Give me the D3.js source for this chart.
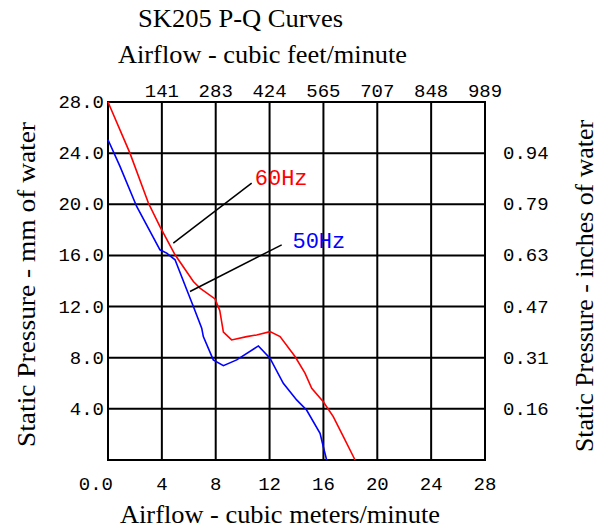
<!DOCTYPE html>
<html>
<head>
<meta charset="utf-8">
<script src="https://cdn.jsdelivr.net/npm/d3@7"></script>
<style>
  body { margin: 0; background: #fff; }
  svg { display: block; }
  .tick { font-family: "Liberation Mono", "DejaVu Sans Mono", monospace; font-size: 19px; fill: #000; }
  .ttl { font-family: "Liberation Serif", serif; font-size: 26px; fill: #000; }
</style>
</head>
<body>
<svg width="608" height="532"></svg>
<script>
// airflow in m3/min, pressure in mm H2O
var q60 = [0, 1.63, 3.0, 3.86, 4.98, 6.34, 6.83, 7.95, 8.3, 8.57, 9.18, 10.3, 11.04, 12.03, 12.78, 13.89, 14.63, 15.13, 15.99, 16.73, 17.48, 18.35];
var p60 = [28, 24.0, 20.1, 18.26, 16.05, 13.96, 13.44, 12.6, 11.7, 10.0, 9.39, 9.65, 9.78, 10.04, 9.65, 8.09, 6.79, 5.61, 4.56, 3.39, 1.82, 0];
var q50 = [0, 0.89, 2.13, 3.86, 4.36, 4.98, 5.85, 6.34, 6.96, 7.08, 7.82, 8.57, 9.56, 11.17, 12.03, 13.02, 14.01, 14.75, 15.75, 15.99, 16.24];
var p50 = [25.05, 22.96, 19.83, 16.44, 16.18, 15.66, 13.31, 12.0, 10.31, 9.65, 7.83, 7.38, 7.83, 8.92, 7.96, 6.0, 4.7, 3.91, 2.09, 1.04, 0];

var xTicks = [4, 8, 12, 16, 20, 24, 28];
var yTicks = [4, 8, 12, 16, 20, 24, 28];
var cfmLabels = ["141", "283", "424", "565", "707", "848", "989"];
var inchLabels = ["0.16", "0.31", "0.47", "0.63", "0.79", "0.94"];

// label text, label anchor (q,p), leader start (q,p), leader end (q,p)
var notes = [
  { name: "60Hz", color: "#ff0000", at: [10.9, 21.5], from: [10.67, 21.66], to: [4.85, 16.96] },
  { name: "50Hz", color: "#0000ff", at: [13.7, 16.6], from: [12.9, 16.83], to: [6.09, 13.18] }
];

var svg = d3.select("svg");

var x = d3.scaleLinear().domain([0, 28]).range([108, 485]);
var y = d3.scaleLinear().domain([0, 28]).range([460, 102]);

// grid
svg.append("g")
  .selectAll("line")
  .data(xTicks)
  .enter().append("line")
  .attr("x1", d => x(d)).attr("x2", d => x(d))
  .attr("y1", y(0)).attr("y2", y(28))
  .attr("stroke", "#000").attr("stroke-width", 2);

svg.append("g")
  .selectAll("line")
  .data(yTicks)
  .enter().append("line")
  .attr("x1", x(0)).attr("x2", x(28))
  .attr("y1", d => y(d)).attr("y2", d => y(d))
  .attr("stroke", "#000").attr("stroke-width", 2);

svg.append("rect")
  .attr("x", x(0)).attr("y", y(28))
  .attr("width", x(28) - x(0)).attr("height", y(0) - y(28))
  .attr("fill", "none").attr("stroke", "#000").attr("stroke-width", 2);

// tick labels
svg.selectAll(".bx")
  .data(xTicks)
  .enter().append("text")
  .attr("class", "tick")
  .attr("x", d => x(d)).attr("y", 490)
  .attr("text-anchor", "middle")
  .text(d => d);
svg.append("text").attr("class", "tick")
  .attr("x", x(0) + 5).attr("y", 490)
  .attr("text-anchor", "end").text("0.0");

svg.selectAll(".tx")
  .data(xTicks)
  .enter().append("text")
  .attr("class", "tick")
  .attr("x", d => x(d)).attr("y", 97)
  .attr("text-anchor", "middle")
  .text((d, i) => cfmLabels[i]);

svg.selectAll(".ly")
  .data(yTicks)
  .enter().append("text")
  .attr("class", "tick")
  .attr("x", 104).attr("y", d => y(d) + 6)
  .attr("text-anchor", "end")
  .text(d => d.toFixed(1));

svg.selectAll(".ry")
  .data(yTicks.slice(0, 6))
  .enter().append("text")
  .attr("class", "tick")
  .attr("x", 503).attr("y", d => y(d) + 6)
  .text((d, i) => inchLabels[i]);

// titles
svg.append("text").attr("class", "ttl")
  .attr("x", 138).attr("y", 27)
  .attr("textLength", 205).attr("lengthAdjust", "spacingAndGlyphs")
  .text("SK205 P-Q Curves");
svg.append("text").attr("class", "ttl")
  .attr("x", 118).attr("y", 63)
  .attr("textLength", 289).attr("lengthAdjust", "spacingAndGlyphs")
  .text("Airflow - cubic feet/minute");
svg.append("text").attr("class", "ttl")
  .attr("x", 120).attr("y", 523)
  .attr("textLength", 320).attr("lengthAdjust", "spacingAndGlyphs")
  .text("Airflow - cubic meters/minute");
svg.append("text").attr("class", "ttl")
  .attr("transform", "translate(35,447) rotate(-90)")
  .attr("textLength", 325).attr("lengthAdjust", "spacingAndGlyphs")
  .text("Static Pressure - mm of water");
svg.append("text").attr("class", "ttl")
  .attr("transform", "translate(593,452) rotate(-90)")
  .attr("textLength", 332).attr("lengthAdjust", "spacingAndGlyphs")
  .text("Static Pressure - inches of water");

// curves
var line = d3.line().x(d => x(d[0])).y(d => y(d[1]));
var series = [
  { color: "#0000ff", pts: d3.zip(q50, p50) },
  { color: "#ff0000", pts: d3.zip(q60, p60) }
];
svg.selectAll(".curve")
  .data(series)
  .enter().append("path")
  .attr("d", d => line(d.pts))
  .attr("fill", "none")
  .attr("stroke", d => d.color)
  .attr("stroke-width", 1.6);

// leaders and labels
svg.selectAll(".lead")
  .data(notes)
  .enter().append("line")
  .attr("x1", d => x(d.from[0])).attr("y1", d => y(d.from[1]))
  .attr("x2", d => x(d.to[0])).attr("y2", d => y(d.to[1]))
  .attr("stroke", "#000").attr("stroke-width", 1.5);

svg.selectAll(".note")
  .data(notes)
  .enter().append("text")
  .attr("class", "tick")
  .style("font-size", "22px")
  .attr("x", d => x(d.at[0])).attr("y", d => y(d.at[1]))
  .attr("fill", d => d.color)
  .style("fill", d => d.color)
  .text(d => d.name);
</script>
</body>
</html>
